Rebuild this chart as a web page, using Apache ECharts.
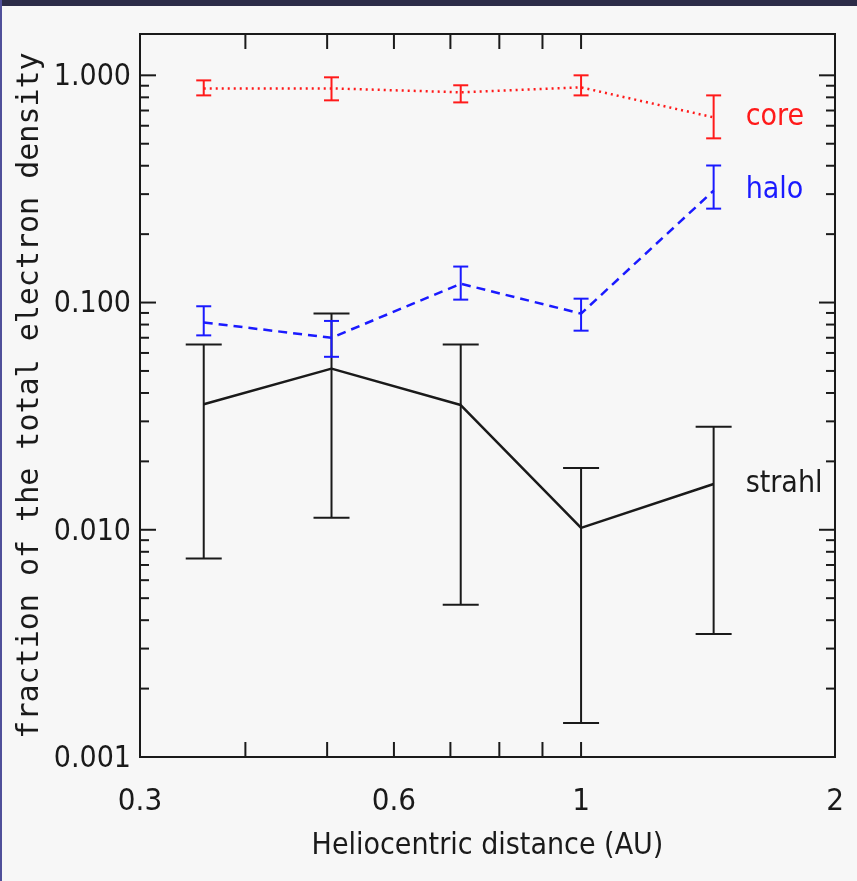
<!DOCTYPE html>
<html><head><meta charset="utf-8">
<script src="https://cdn.jsdelivr.net/npm/echarts@6/dist/echarts.min.js"></script>
<style>
html,body{margin:0;padding:0;background:#f7f7f7;overflow:hidden;}
#c{position:absolute;left:0;top:0;width:857px;height:881px;}
#topbar{position:absolute;left:0;top:0;width:857px;height:6px;background:#2c2c48;z-index:5}
#leftbar{position:absolute;left:0;top:0;width:2px;height:881px;background:#50509a;z-index:5}
</style></head><body>
<div id="c"></div><div id="topbar"></div><div id="leftbar"></div>
<script>
// ---- data ----
const distance = [0.357, 0.506, 0.72, 1.0, 1.436];
const coreValues = [0.876, 0.876, 0.842, 0.885, 0.653];
const coreLow    = [0.816, 0.776, 0.760, 0.816, 0.528];
const coreHigh   = [0.950, 0.980, 0.904, 1.000, 0.816];
const haloValues = [0.0817, 0.0700, 0.121, 0.0894, 0.311];
const haloLow    = [0.0717, 0.0577, 0.103, 0.0752, 0.259];
const haloHigh   = [0.0963, 0.0830, 0.144, 0.104, 0.401];
const strahlValues = [0.0357, 0.0512, 0.0354, 0.0102, 0.0159];
const strahlLow    = [0.00747, 0.0113, 0.00468, 0.00141, 0.00348];
const strahlHigh   = [0.0654, 0.0894, 0.0654, 0.0187, 0.0284];
// ---- axis ticks ----
const xTickLabels = [0.3, 0.6, 1, 2];
const xTicks = [0.4, 0.5, 0.6, 0.7, 0.8, 0.9, 1];
const yTickLabels = [1, 0.1, 0.01, 0.001];
const yDecades = [0.001, 0.01, 0.1, 1];
const yMults = [2, 3, 4, 5, 6, 7, 8, 9];
const xMin = 0.3, xMax = 2, yMin = 0.001, yMax = 1.52;

const FONT = "'Liberation Sans Narrow', 'DejaVu Sans Condensed', sans-serif";
const INK = '#1a1a1a';
const RED = '#ff1a1a', BLUE = '#1a1aff', BLACK = '#1a1a1a';

const yMinor = [];
yDecades.forEach(d => yMults.forEach(m => { const v = d * m; if (v < yMax) yMinor.push(v); }));

function pts(xs, ys) { return xs.map((x, i) => [x, ys[i]]); }
function errData(xs, lo, hi) { return xs.map((x, i) => [x, lo[i], hi[i]]); }

function errRender(half, color) {
  return function (params, api) {
    const x = api.value(0);
    const a = api.coord([x, api.value(1)]);
    const b = api.coord([x, api.value(2)]);
    const st = { stroke: color, lineWidth: 2 };
    return { type: 'group', children: [
      { type: 'line', shape: { x1: a[0], y1: a[1], x2: b[0], y2: b[1] }, style: st },
      { type: 'line', shape: { x1: a[0] - half, y1: a[1], x2: a[0] + half, y2: a[1] }, style: st },
      { type: 'line', shape: { x1: b[0] - half, y1: b[1], x2: b[0] + half, y2: b[1] }, style: st }
    ]};
  };
}

function xTickRender(params, api) {
  const v = api.value(0);
  const a = api.coord([v, yMin]);
  const b = api.coord([v, yMax]);
  const st = { stroke: INK, lineWidth: 2 };
  return { type: 'group', children: [
    { type: 'line', shape: { x1: a[0], y1: a[1], x2: a[0], y2: a[1] - 15 }, style: st },
    { type: 'line', shape: { x1: b[0], y1: b[1], x2: b[0], y2: b[1] + 15 }, style: st }
  ]};
}
function yTickRender(len) {
  return function (params, api) {
    const v = api.value(1);
    const a = api.coord([xMin, v]);
    const b = api.coord([xMax, v]);
    const st = { stroke: INK, lineWidth: 2 };
    return { type: 'group', children: [
      { type: 'line', shape: { x1: a[0], y1: a[1], x2: a[0] + len, y2: a[1] }, style: st },
      { type: 'line', shape: { x1: b[0], y1: b[1], x2: b[0] - len, y2: b[1] }, style: st }
    ]};
  };
}
function xLabelRender(params, api) {
  const v = api.value(0);
  const a = api.coord([v, yMin]);
  return { type: 'text', x: a[0], y: a[1] + 45, style: {
    text: String(v), fill: INK, fontSize: 31, fontFamily: FONT, align: 'center', verticalAlign: 'middle' } };
}
function yLabelRender(params, api) {
  const v = api.value(1);
  const a = api.coord([xMin, v]);
  return { type: 'text', x: a[0] - 9, y: a[1] + 2, style: {
    text: v.toFixed(3), fill: INK, fontSize: 30, fontFamily: FONT, align: 'right', verticalAlign: 'middle' } };
}

function lineSeries(name, data, color, type, width) {
  return {
    name: name, type: 'line', data: data, symbol: 'none', z: 3,
    lineStyle: { color: color, width: width, type: type },
    endLabel: { show: true, formatter: name, color: color, fontSize: 30, fontFamily: FONT, distance: 32 }
  };
}

const chart = echarts.init(document.getElementById('c'), null, { renderer: 'canvas' });
chart.setOption({
  animation: false,
  backgroundColor: '#f7f7f7',
  grid: { left: 140, right: 22, top: 34, bottom: 124, show: true, borderColor: INK, borderWidth: 2, backgroundColor: 'transparent' },
  xAxis: {
    type: 'log', logBase: 10, min: xMin, max: xMax,
    axisLine: { show: false }, axisTick: { show: false }, axisLabel: { show: false }, splitLine: { show: false },
    name: 'Heliocentric distance (AU)', nameLocation: 'middle', nameGap: 74,
    nameTextStyle: { fontSize: 30, color: INK, fontFamily: FONT }
  },
  yAxis: {
    type: 'log', logBase: 10, min: yMin, max: yMax,
    axisLine: { show: false }, axisTick: { show: false }, axisLabel: { show: false }, splitLine: { show: false },
    name: 'fraction of the total electron density', nameLocation: 'middle', nameGap: 95,
    nameTextStyle: { fontSize: 30, color: INK, fontFamily: "'DejaVu Sans Mono', monospace" }
  },
  series: [
    lineSeries('core', pts(distance, coreValues), RED, [2, 4], 2.5),
    lineSeries('halo', pts(distance, haloValues), BLUE, [9, 6], 2.5),
    lineSeries('strahl', pts(distance, strahlValues), BLACK, 'solid', 2.5),
    { type: 'custom', clip: false, z: 4, data: errData(distance, coreLow, coreHigh), renderItem: errRender(7.5, RED) },
    { type: 'custom', clip: false, z: 4, data: errData(distance, haloLow, haloHigh), renderItem: errRender(7.5, BLUE) },
    { type: 'custom', clip: false, z: 2, data: errData(distance, strahlLow, strahlHigh), renderItem: errRender(18, BLACK) },
    { type: 'custom', clip: false, silent: true, data: xTicks.map(v => [v, yMin]), renderItem: xTickRender },
    { type: 'custom', clip: false, silent: true, data: yMinor.map(v => [xMin, v]), renderItem: yTickRender(9) },
    { type: 'custom', clip: false, silent: true, data: yDecades.map(v => [xMin, v]), renderItem: yTickRender(16) },
    { type: 'custom', clip: false, silent: true, data: xTickLabels.map(v => [v, yMin]), renderItem: xLabelRender },
    { type: 'custom', clip: false, silent: true, data: yTickLabels.map(v => [xMin, v]), renderItem: yLabelRender }
  ]
});
</script>
</body></html>
